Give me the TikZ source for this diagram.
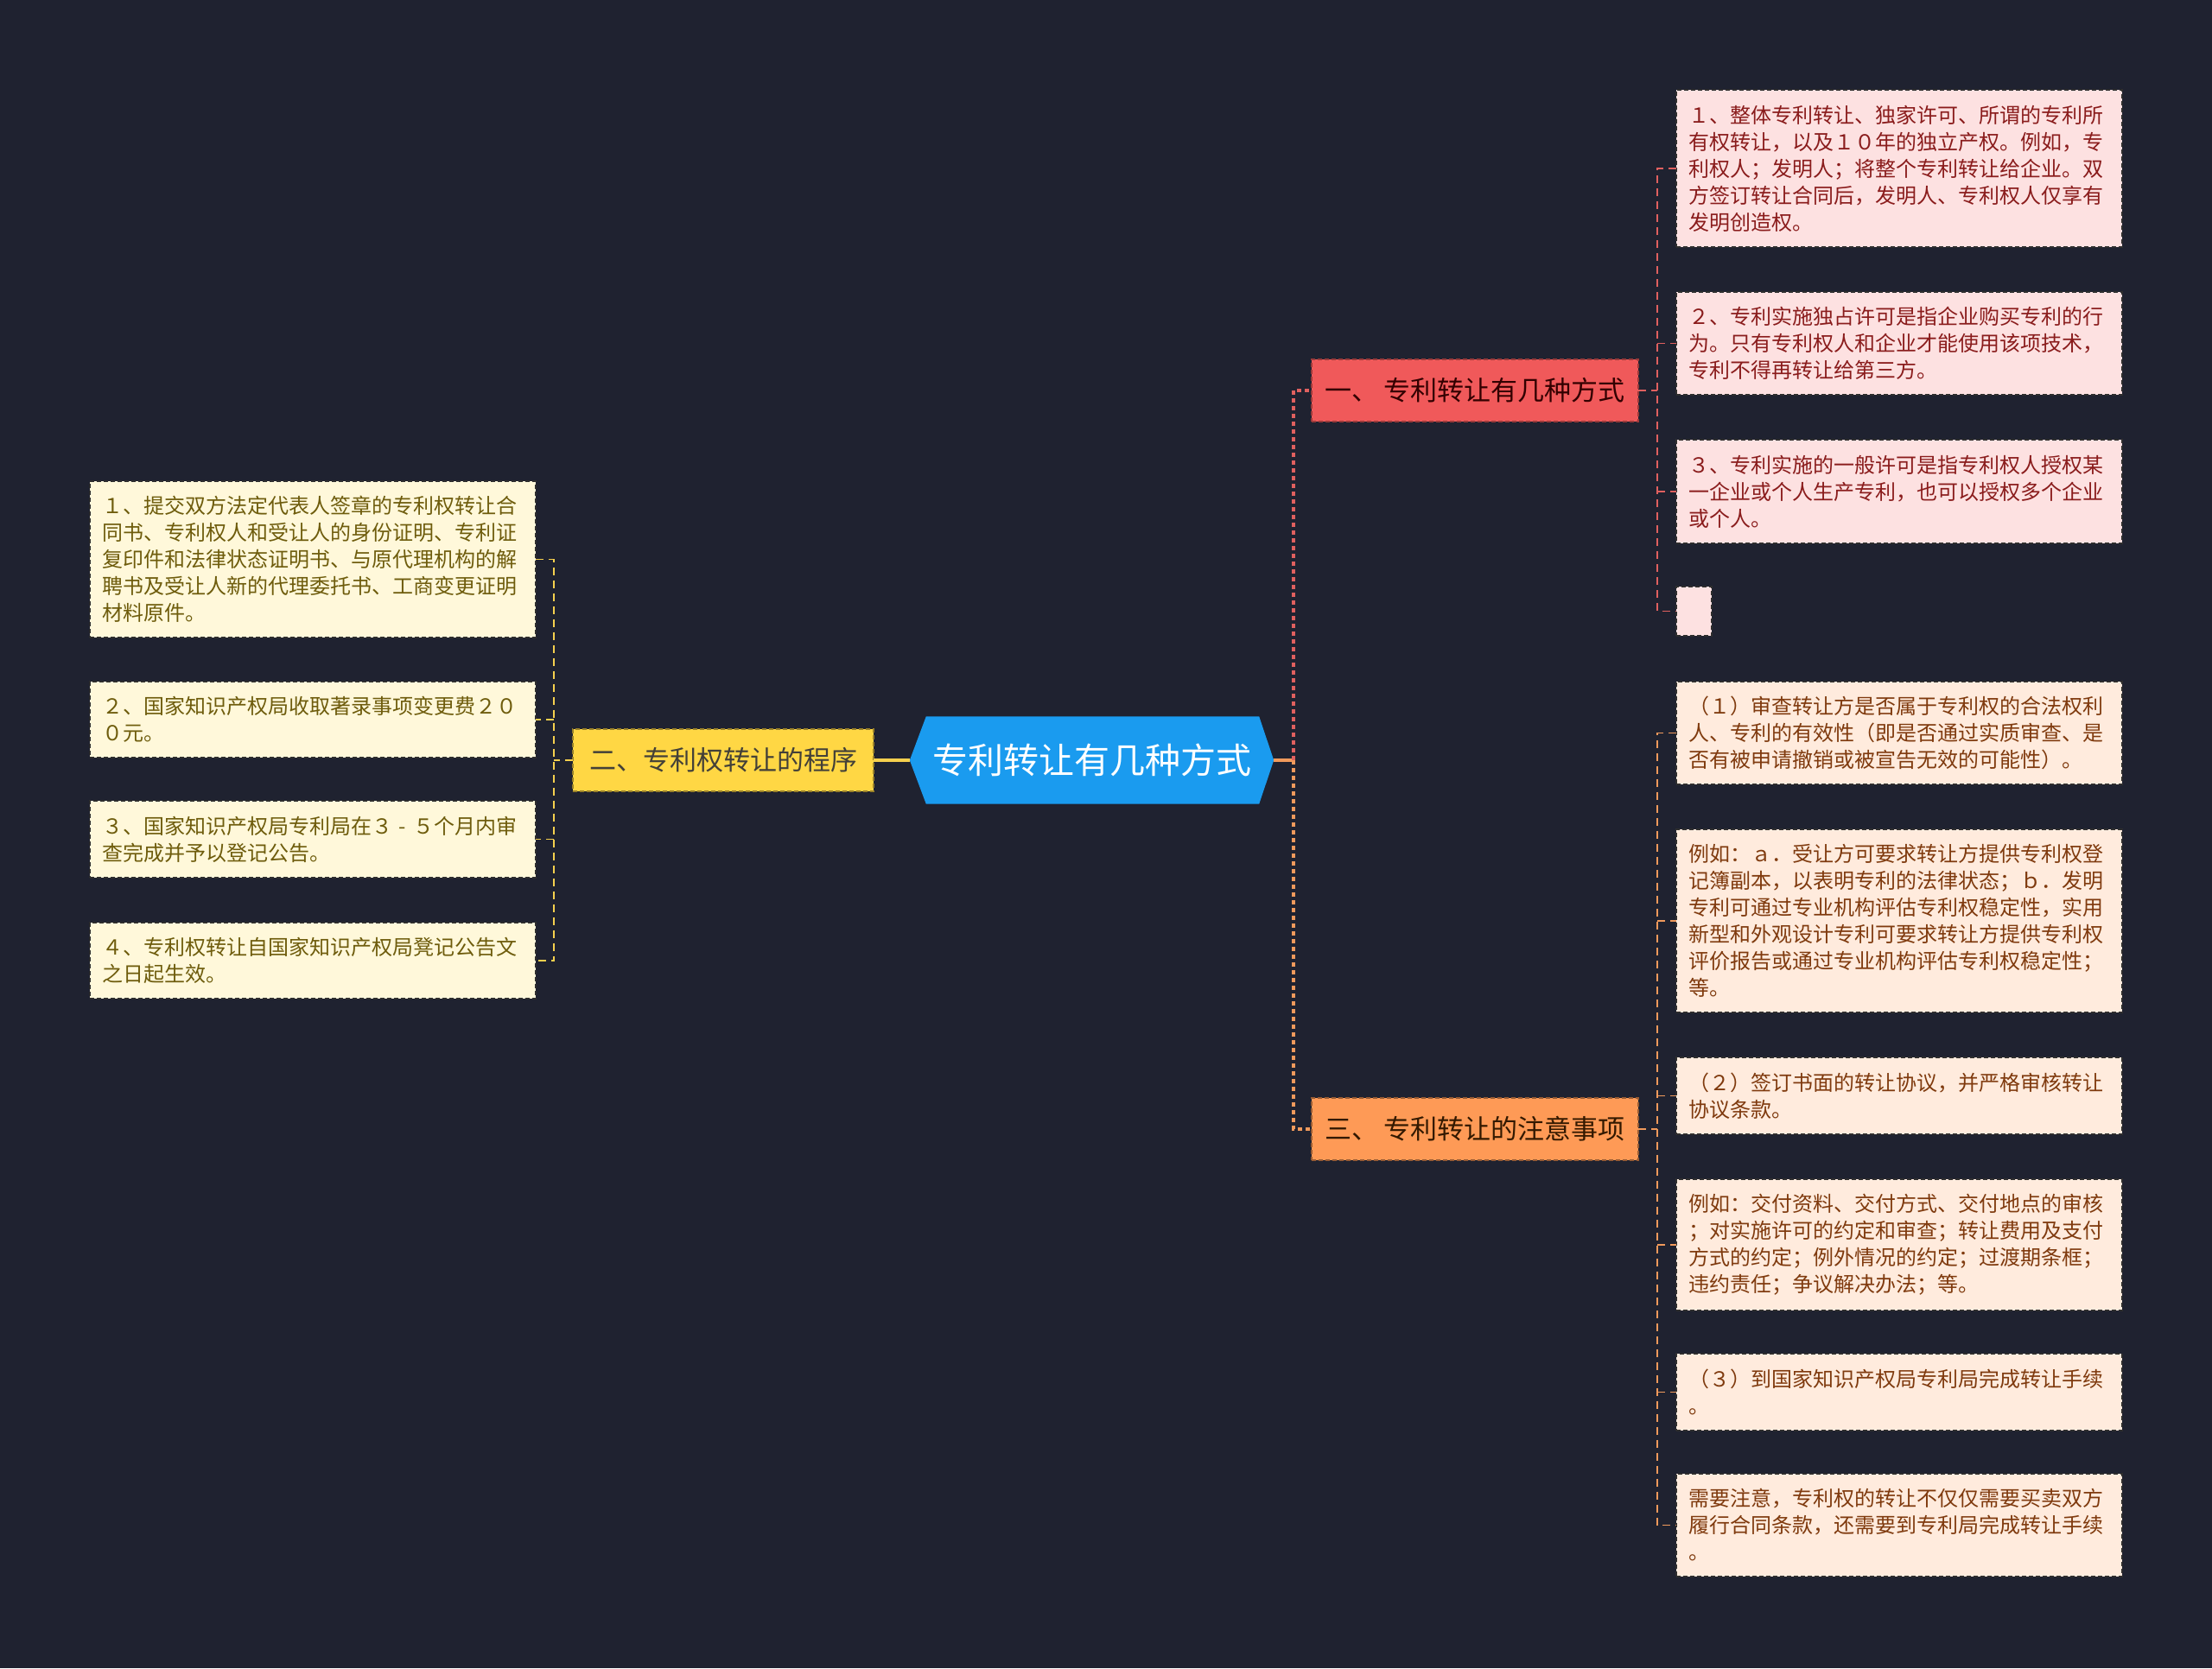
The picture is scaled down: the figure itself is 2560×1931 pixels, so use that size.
\documentclass[tikz,border=0pt]{standalone}
\usepackage{fontspec}
\setmainfont{Noto Sans CJK SC}
\usetikzlibrary{backgrounds}
\definecolor{bg}{HTML}{1F2230}
\definecolor{rootblue}{HTML}{1A9BEF}
\definecolor{mainred}{HTML}{F0595A}
\definecolor{mainorange}{HTML}{FE9A56}
\definecolor{mainyellow}{HTML}{FFD744}
\definecolor{leafredfill}{HTML}{FDE1E1}
\definecolor{leafredtext}{HTML}{8A1C1C}
\definecolor{leaforangefill}{HTML}{FFEBDD}
\definecolor{leaforangetext}{HTML}{7F3A0E}
\definecolor{leafyellowfill}{HTML}{FFF8DA}
\definecolor{leafyellowtext}{HTML}{6E5C0C}
\definecolor{leafborder}{HTML}{2E2E2E}
\definecolor{linered}{HTML}{E0605F}
\definecolor{lineorange}{HTML}{F09A5C}
\definecolor{lineyellow}{HTML}{F5D04E}
\tikzset{
  leafbox/.style={rectangle, draw=leafborder, line width=1.2pt, dash pattern=on 5pt off 3pt,
    inner xsep=14pt, inner ysep=0pt, text width=488pt, minimum width=516pt,
    align=left, anchor=north west, outer sep=0pt, font=\fontsize{24}{31}\selectfont},
  leafred/.style={leafbox, fill=leafredfill, text=leafredtext},
  leaforange/.style={leafbox, fill=leaforangefill, text=leaforangetext},
  leafyellow/.style={leafbox, fill=leafyellowfill, text=leafyellowtext},
  mainbox/.style={rectangle, line width=1.2pt, dash pattern=on 5pt off 3pt, inner sep=0pt,
    minimum height=72pt, outer sep=0pt, font=\fontsize{31}{34}\selectfont},
  mainbus/.style={line width=3.5pt, dash pattern=on 5pt off 4pt},
  leafline/.style={line width=1.6pt, dash pattern=on 9pt off 6pt},
  rootline/.style={line width=3.5pt},
}
\begin{document}
\begin{tikzpicture}[x=1pt,y=-1pt]
\useasboundingbox (0,0) rectangle (2560,1931);

% root
\node[inner sep=0pt, minimum width=421pt, minimum height=101pt, text=white,
      font=\fontsize{41}{44}\selectfont] (root) at (1263.5,880) {专利转让有几种方式};
\begin{scope}[on background layer]
\fill[bg] (0,0) rectangle (2560,1931);
\fill[rootblue] (root.west) -- ([xshift=19pt]root.north west) -- ([xshift=-17pt]root.north east)
  -- (root.east) -- ([xshift=-17pt]root.south east) -- ([xshift=19pt]root.south west) -- cycle;
\end{scope}

% main branches
\node[mainbox, fill=mainred, draw=mainred!65!black, text=black!80!red, minimum width=378pt] (n1) at (1707,452) {一、\ 专利转让有几种方式};
\node[mainbox, fill=mainyellow, draw=mainyellow!60!black, text=black!85!yellow, minimum width=348pt] (n2) at (837,880) {二、专利权转让的程序};
\node[mainbox, fill=mainorange, draw=mainorange!60!black, text=black!80!orange, minimum width=378pt] (n3) at (1707,1307) {三、\ 专利转让的注意事项};

% right leaves of 一
\node[leafred, minimum height=182pt] (r1) at (1940,104) {１、整体专利转让、独家许可、所谓的专利所\\有权转让，以及１０年的独立产权。例如，专\\利权人；发明人；将整个专利转让给企业。双\\方签订转让合同后，发明人、专利权人仅享有\\发明创造权。};
\node[leafred, minimum height=119pt] (r2) at (1940,338) {２、专利实施独占许可是指企业购买专利的行\\为。只有专利权人和企业才能使用该项技术，\\专利不得再转让给第三方。};
\node[leafred, minimum height=120pt] (r3) at (1940,509) {３、专利实施的一般许可是指专利权人授权某\\一企业或个人生产专利，也可以授权多个企业\\或个人。};
\node[rectangle, draw=leafborder, line width=1.2pt, dash pattern=on 5pt off 3pt, fill=leafredfill,
      anchor=north west, inner sep=0pt, outer sep=0pt, minimum width=41pt, minimum height=57pt] (r4) at (1940,679) {};

% right leaves of 三
\node[leaforange, minimum height=119pt] (r5) at (1940,789) {（１）审查转让方是否属于专利权的合法权利\\人、专利的有效性（即是否通过实质审查、是\\否有被申请撤销或被宣告无效的可能性）。};
\node[leaforange, minimum height=212pt] (r6) at (1940,960) {例如：ａ．受让方可要求转让方提供专利权登\\记簿副本，以表明专利的法律状态；ｂ．发明\\专利可通过专业机构评估专利权稳定性，实用\\新型和外观设计专利可要求转让方提供专利权\\评价报告或通过专业机构评估专利权稳定性；\\等。};
\node[leaforange, minimum height=89pt] (r7) at (1940,1224) {（２）签订书面的转让协议，并严格审核转让\\协议条款。};
\node[leaforange, minimum height=152pt] (r8) at (1940,1365) {例如：交付资料、交付方式、交付地点的审核\\；对实施许可的约定和审查；转让费用及支付\\方式的约定；例外情况的约定；过渡期条框；\\违约责任；争议解决办法；等。};
\node[leaforange, minimum height=89pt] (r9) at (1940,1567) {（３）到国家知识产权局专利局完成转让手续\\。};
\node[leaforange, minimum height=119pt] (r10) at (1940,1706) {需要注意，专利权的转让不仅仅需要买卖双方\\履行合同条款，还需要到专利局完成转让手续\\。};

% left leaves of 二
\node[leafyellow, minimum width=515pt, minimum height=181pt] (l1) at (104,557) {１、提交双方法定代表人签章的专利权转让合\\同书、专利权人和受让人的身份证明、专利证\\复印件和法律状态证明书、与原代理机构的解\\聘书及受让人新的代理委托书、工商变更证明\\材料原件。};
\node[leafyellow, minimum width=515pt, minimum height=88pt] (l2) at (104,789) {２、国家知识产权局收取著录事项变更费２０\\０元。};
\node[leafyellow, minimum width=515pt, minimum height=89pt] (l3) at (104,927) {３、国家知识产权局专利局在３\hbox to 24pt{\hss-\hss}５个月内审\\查完成并予以登记公告。};
\node[leafyellow, minimum width=515pt, minimum height=88pt] (l4) at (104,1068) {４、专利权转让自国家知识产权局凳记公告文\\之日起生效。};

% bus x positions
\coordinate (mb) at (1497,0);
\coordinate (rb) at (1918,0);
\coordinate (lb) at (641,0);

% root connectors
\draw[rootline, lineyellow] (root.west) -- (n2.east);
\draw[rootline, lineorange] (root.east) -- (root.east -| mb);
\draw[mainbus, linered] (root.east -| mb) -- (n1.west -| mb) -- (n1.west);
\draw[mainbus, lineorange] (root.east -| mb) -- (n3.west -| mb) -- (n3.west);

% 一 children
\draw[leafline, linered] (n1.east) -- (n1.east -| rb);
\draw[leafline, linered] (r1.west) -- (r1.west -| rb) -- (r4.west -| rb) -- (r4.west);
\draw[leafline, linered] (r2.west -| rb) -- (r2.west);
\draw[leafline, linered] (r3.west -| rb) -- (r3.west);

% 三 children
\draw[leafline, lineorange] (n3.east) -- (n3.east -| rb);
\draw[leafline, lineorange] (r5.west) -- (r5.west -| rb) -- (r10.west -| rb) -- (r10.west);
\foreach \n in {r6,r7,r8,r9} \draw[leafline, lineorange] (\n.west -| rb) -- (\n.west);

% 二 children
\draw[leafline, lineyellow] (n2.west) -- (n2.west -| lb);
\draw[leafline, lineyellow] (l1.east) -- (l1.east -| lb) -- (l4.east -| lb) -- (l4.east);
\draw[leafline, lineyellow] (l2.east -| lb) -- (l2.east);
\draw[leafline, lineyellow] (l3.east -| lb) -- (l3.east);
\end{tikzpicture}
\end{document}
